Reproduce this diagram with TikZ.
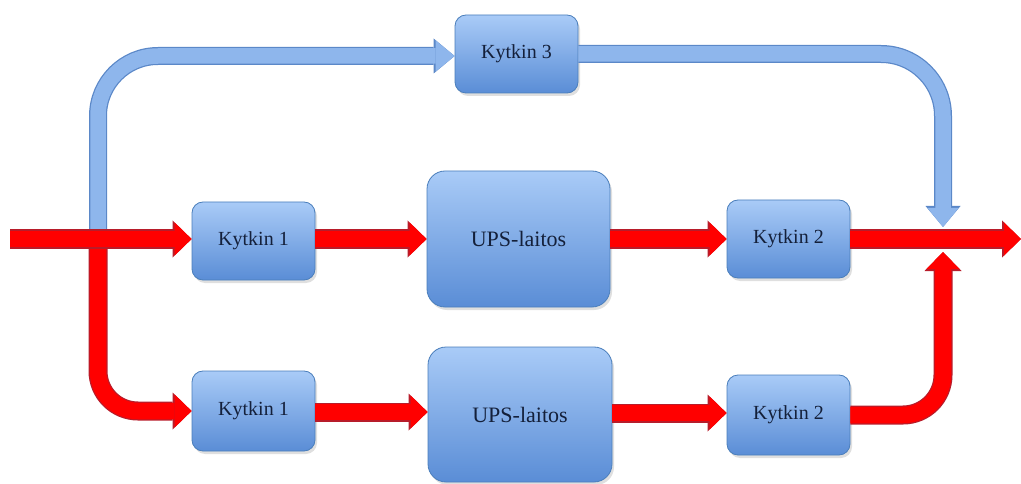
\documentclass[tikz,border=0pt]{standalone}
\usepackage{fontspec}
\setmainfont{Liberation Serif}
\newfontfamily\tnrfont{Liberation Serif}
\usetikzlibrary{arrows.meta,shadows,calc}
\definecolor{boxtop}{HTML}{A9CBF7}
\definecolor{boxbot}{HTML}{5A8DD6}
\definecolor{boxline}{HTML}{4A7EBB}
\definecolor{txt}{HTML}{14203A}
\definecolor{redfill}{HTML}{FF0000}
\definecolor{redline}{HTML}{B81C2A}
\definecolor{bluefill}{HTML}{8EB6EC}
\definecolor{blueline}{HTML}{5B88C8}
\tikzset{
  box/.style={draw=boxline, line width=0.8pt, rounded corners=11pt,
    top color=boxtop, bottom color=boxbot, text=txt,
    drop shadow={opacity=0.25, shadow xshift=2pt, shadow yshift=-3pt},
    minimum width=123pt, minimum height=78pt, inner sep=0pt,
    font=\tnrfont\fontsize{20}{24}\selectfont},
  upsbox/.style={box, minimum width=183pt, minimum height=136pt,
    rounded corners=18pt, font=\tnrfont\fontsize{22}{26}\selectfont},
  redarrow/.style={draw=redfill, line width=16.5pt,
    -{Triangle[width=33pt,length=17pt,line width=0pt]},
    preaction={draw=redline, line width=19pt,
      -{Triangle[width=37pt,length=19pt,line width=0pt]}}},
  bluearrow/.style={draw=bluefill, line width=15.5pt,
    -{Triangle[width=31pt,length=19pt,line width=0pt]},
    preaction={draw=blueline, line width=18pt,
      -{Triangle[width=35pt,length=21pt,line width=0pt]}}},
}
\begin{document}
\begin{tikzpicture}[x=1pt,y=-1pt]
\useasboundingbox (0,0) rectangle (1021,484);
% nodes
\node[box] (k3) at (516.5,54) {Kytkin 3};
\node[box] (k1) at (253.5,241) {Kytkin 1};
\node[upsbox] (ups) at (518.5,239) {UPS-laitos};
\node[box] (k2) at (788.5,239) {Kytkin 2};
\node[box, minimum height=80pt] (k1b) at (253.5,411) {Kytkin 1};
\node[upsbox, minimum height=135pt, minimum width=184pt] (upsb) at (520,414.5) {UPS-laitos};
\node[box, minimum height=80pt] (k2b) at (788.5,415) {Kytkin 2};
% junction coordinates
\coordinate (in) at (10,239);
\coordinate (split) at (98,239);
\coordinate (merge) at (943,239);
\coordinate (out) at (1021,239);
% blue bypass
\draw[bluearrow, rounded corners=60pt] (split) |- ([yshift=-2pt]k3.west);
\draw[bluearrow, rounded corners=62pt, shorten >=12pt] (k3.east) -| (merge);
% red branch lower
\draw[redarrow, rounded corners=40pt] (split) |- (k1b.west);
\draw[redarrow, rounded corners=40pt, shorten >=13pt] (k2b.east) -| (merge);
% main lines
\draw[redarrow] (in) -- (in -| k1.west);
\draw[redarrow] (k1.east |- in) -- (ups.west |- in);
\draw[redarrow] (ups.east |- in) -- (k2.west |- in);
\draw[redarrow] (k2.east |- in) -- (out);
\draw[redarrow] (k1b.east |- 0,412) -- (upsb.west |- 0,412);
\draw[redarrow] (upsb.east |- 0,413) -- (k2b.west |- 0,413);
\end{tikzpicture}
\end{document}
